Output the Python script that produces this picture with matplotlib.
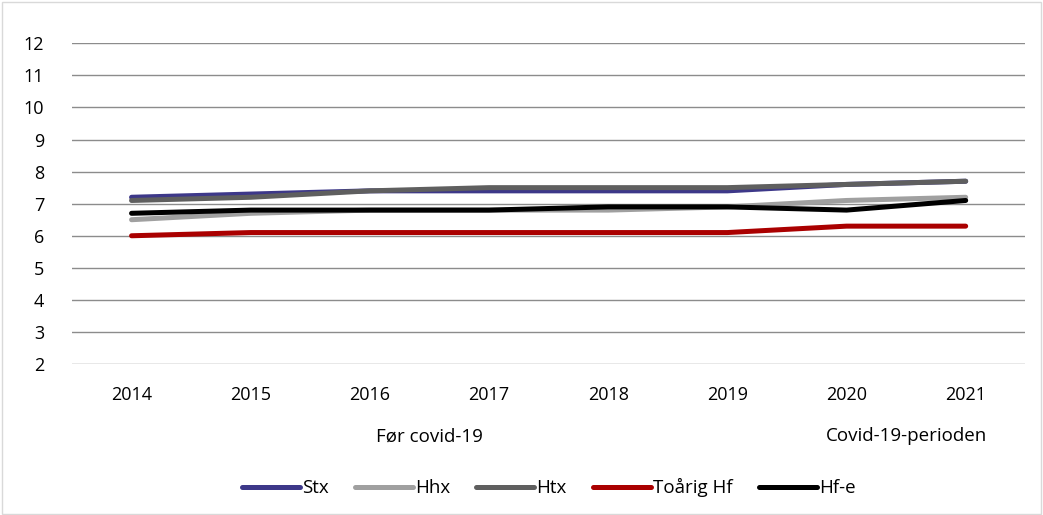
import matplotlib.pyplot as plt
import matplotlib.transforms as mtransforms

plt.rcParams['font.family'] = ['Open Sans', 'DejaVu Sans']

# Data
years = ['2014', '2015', '2016', '2017', '2018', '2019', '2020', '2021']
stx = [7.2, 7.3, 7.4, 7.4, 7.4, 7.4, 7.6, 7.7]
hhx = [6.5, 6.7, 6.8, 6.8, 6.8, 6.9, 7.1, 7.2]
htx = [7.1, 7.2, 7.4, 7.5, 7.5, 7.5, 7.6, 7.7]
toaarig_hf = [6.0, 6.1, 6.1, 6.1, 6.1, 6.1, 6.3, 6.3]
hf_e = [6.7, 6.8, 6.8, 6.8, 6.9, 6.9, 6.8, 7.1]

periods = ['Før covid-19', 'Covid-19-perioden']
period_spans = [(0, 5), (6, 7)]

series = [
    ('Stx', stx, '#3d3889'),
    ('Hhx', hhx, '#a0a0a0'),
    ('Htx', htx, '#5f5f5f'),
    ('Toårig Hf', toaarig_hf, '#aa0000'),
    ('Hf-e', hf_e, '#000000'),
]

fig = plt.figure(figsize=(10.43, 5.15), dpi=100)
ax = fig.add_axes([0.069, 0.293, 0.914, 0.623])

x = list(range(len(years)))
for name, vals, color in series:
    ax.plot(x, vals, color=color, linewidth=3.6, solid_capstyle='round', label=name)

ax.set_ylim(2, 12)
ax.set_yticks(range(2, 13))
ax.set_xlim(-0.5, len(years) - 0.5)
ax.set_xticks(x)
ax.set_xticklabels(years)
ax.grid(axis='y', color='#8c8c8c', linewidth=1)
ax.set_axisbelow(True)
for s in ax.spines.values():
    s.set_visible(False)
ax.tick_params(length=0, labelsize=13, colors='#000000')
ax.tick_params(axis='x', pad=16)
ax.tick_params(axis='y', pad=20)

trans = mtransforms.blended_transform_factory(ax.transData, ax.transAxes)
for label, (a, b) in zip(periods, period_spans):
    ax.text((a + b) / 2, -0.225, label, transform=trans, ha='center', va='center', fontsize=13.5)

ax.legend(loc='center', bbox_to_anchor=(0.5, -0.385), ncol=5, frameon=False,
          fontsize=13.5, handlelength=3.1, handletextpad=0.1, columnspacing=1.4)

# light frame around the whole figure
fig.patches.append(plt.Rectangle((0.002, 0.002), 0.996, 0.994, transform=fig.transFigure,
                                 fill=False, edgecolor='#d9d9d9', linewidth=1))

fig.savefig('out.png', dpi=100)
